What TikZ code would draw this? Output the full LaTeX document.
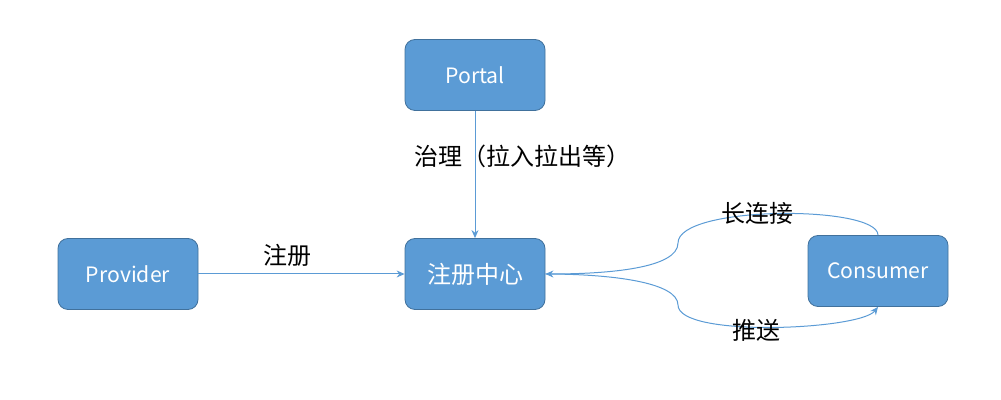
\documentclass[tikz,border=0pt]{standalone}
\usepackage{fontspec}
\setmainfont{Noto Sans CJK SC}
\usepackage{xcolor}
\usepackage{tikz}
\usetikzlibrary{arrows.meta,calc}
\definecolor{boxblue}{HTML}{5B9BD5}
\definecolor{boxedge}{HTML}{41719C}

\begin{document}
\begin{tikzpicture}
    [
      x = 0.5pt, y = -0.5pt,
      box/.style = {draw=boxedge, fill=boxblue, rounded corners=5pt,
                    minimum width=70pt, minimum height=35.5pt,
                    text=white, font=\fontsize{10.6}{12}\selectfont, inner sep=0pt},
      lbl/.style = {font=\fontsize{12}{14}\selectfont, inner sep=0pt},
      link/.style = {draw=boxblue, line width=0.5pt, -{Stealth[length=4pt,width=3.5pt]}},
    ]
    \useasboundingbox (0,0) rectangle (1001,400);

    \node[box] (portal) at (475,75) {Portal};
    \node[box, font=\fontsize{12}{14}\selectfont] (center) at (475,274) {注册中心};
    \node[box] (provider) at (128,274) {Provider};
    \node[box] (consumer) at (878,271) {Consumer};

    \draw[link] (portal) -- (center);
    \draw[link] (provider) -- (center);

    \draw[link] (consumer.north) .. controls (878,205) and (678,205) .. (678,243)
      .. controls (678,268) and (610,274) .. (center.east);
    \draw[link] (center.east) .. controls (610,274) and (678,282) .. (678,305)
      .. controls (678,338) and (860,330) .. (consumer.south);

    \node[lbl, anchor=west] (govern) at (414,156) {治理（拉入拉出等）};
    \node[lbl] (register) at (287,255) {注册};
    \node[lbl] (keep) at (757,213) {长连接};
    \node[lbl] (push) at (756,330) {推送};
\end{tikzpicture}
\end{document}
